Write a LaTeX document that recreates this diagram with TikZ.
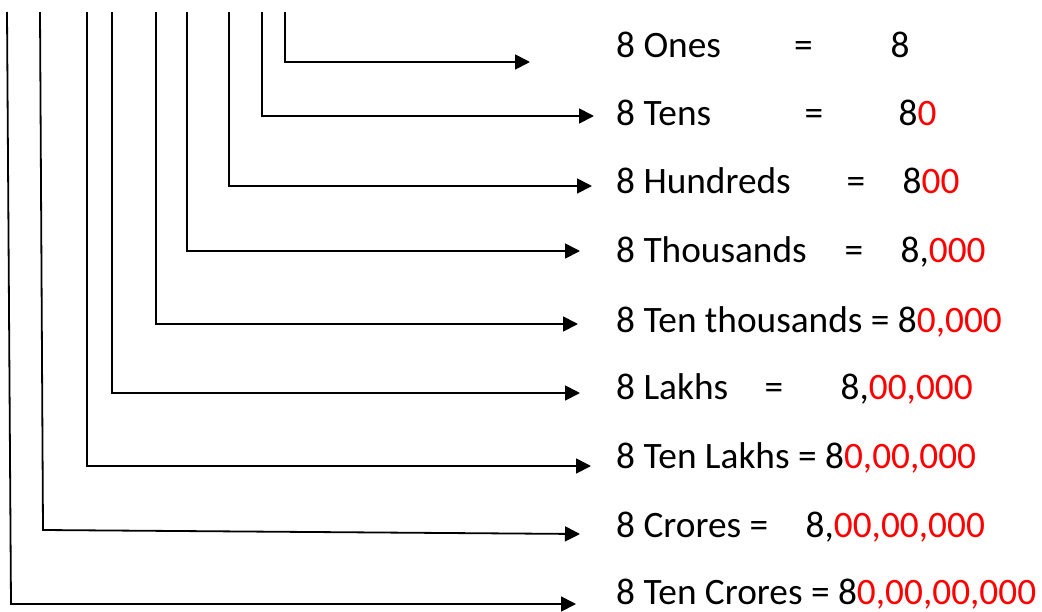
\documentclass[tikz,border=0pt]{standalone}
\usepackage{fontspec}
\setmainfont{Carlito}
\usepackage{xcolor}
\usetikzlibrary{arrows.meta}

\newcommand{\rd}[1]{\textcolor{red}{#1}}
\newcommand{\rowtext}[4]{\makebox[#2pt][l]{#1}\makebox[\dimexpr#3pt-#2pt\relax][l]{=}#4}

\begin{document}
\begin{tikzpicture}[
        x=1pt, y=-1pt,
        font=\fontsize{37.3}{44}\selectfont,
        >={Triangle[length=15pt,width=15pt]},
        link/.style={line width=1.8pt, ->},
        place/.style={anchor=base west, inner sep=0pt}
      ]
      \useasboundingbox (0,0) rectangle (1042,611);

      \node[place] (ones) at (616,57) {\rowtext{8 Ones}{178}{274.5}{8}};
      \node[place] (tens) at (616,125) {\rowtext{8 Tens}{188.5}{282.5}{8\rd{0}}};
      \node[place] (hundreds) at (616,193) {\rowtext{8 Hundreds}{230.5}{286.5}{8\rd{00}}};
      \node[place] (thousands) at (616,262) {\rowtext{8 Thousands}{228.5}{284.5}{8,\rd{000}}};
      \node[place] (tenthousands) at (616,332) {8 Ten thousands = 8\rd{0,000}};
      \node[place] (lakhs) at (616,399) {\rowtext{8 Lakhs}{148.5}{224.5}{8,\rd{00,000}}};
      \node[place] (tenlakhs) at (616,468) {8 Ten Lakhs = 8\rd{0,00,000}};
      \node[place] (crores) at (616,537) {\rowtext{8 Crores}{133.5}{189.5}{8,\rd{00,00,000}}};
      \node[place] (tencrores) at (616,604) {8 Ten Crores = 8\rd{0,00,00,000}};

      \coordinate (onesT) at (285,12);      \coordinate (onesE) at (530,62);
      \coordinate (tensT) at (262,12);      \coordinate (tensE) at (594,116);
      \coordinate (hundredsT) at (229,12);  \coordinate (hundredsE) at (592,186);
      \coordinate (thousandsT) at (187,12); \coordinate (thousandsE) at (580,251);
      \coordinate (tthT) at (156,12);       \coordinate (tthE) at (578,324);
      \coordinate (lakhsT) at (112,12);     \coordinate (lakhsE) at (580,393);
      \coordinate (tlakhsT) at (87,12);     \coordinate (tlakhsE) at (591,466);
      \coordinate (croresT) at (40,12);     \coordinate (croresC) at (43,530);
      \coordinate (croresE) at (580,534);
      \coordinate (tcroresT) at (7,12);     \coordinate (tcroresC) at (11,604);
      \coordinate (tcroresE) at (576,604);

      \draw[link] (onesT) |- (onesE);
      \draw[link] (tensT) |- (tensE);
      \draw[link] (hundredsT) |- (hundredsE);
      \draw[link] (thousandsT) |- (thousandsE);
      \draw[link] (tthT) |- (tthE);
      \draw[link] (lakhsT) |- (lakhsE);
      \draw[link] (tlakhsT) |- (tlakhsE);
      \draw[link] (croresT) -- (croresC) -- (croresE);
      \draw[link] (tcroresT) -- (tcroresC) -- (tcroresE);
    \end{tikzpicture}
\end{document}
